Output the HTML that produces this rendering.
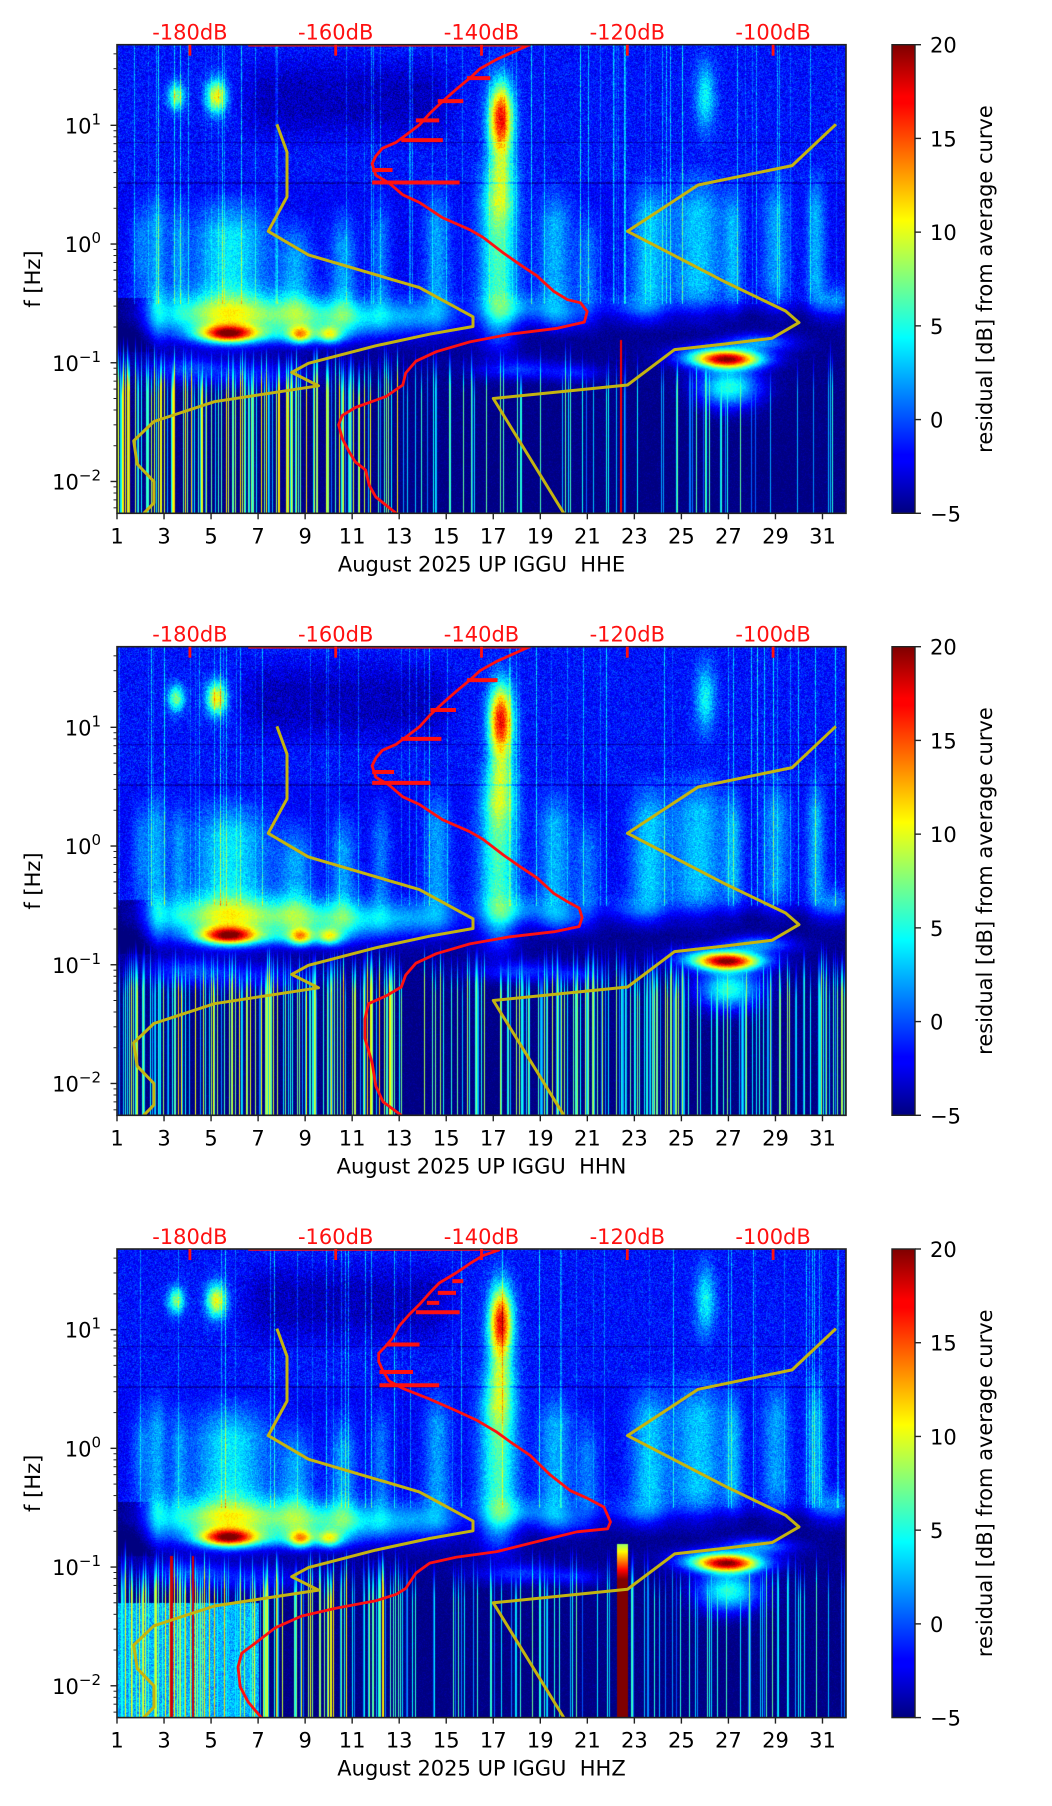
<!DOCTYPE html>
<html><head><meta charset="utf-8">
<style>
html,body{margin:0;padding:0;background:#fff;}
#wrap{position:relative;width:1052px;height:1806px;overflow:hidden;background:#fff;}
canvas{position:absolute;}
#ov{position:absolute;left:0;top:0;}
text{font-family:"DejaVu Sans","Liberation Sans",sans-serif;}
</style></head>
<body>
<div id="wrap">
<canvas id="c0" width="729" height="469" style="left:117px;top:44.7px"></canvas>
<canvas id="c1" width="729" height="469" style="left:117px;top:646.7px"></canvas>
<canvas id="c2" width="729" height="469" style="left:117px;top:1249px"></canvas>
<svg id="ov" width="1052" height="1806" xmlns="http://www.w3.org/2000/svg"></svg>
</div>
<script>
// ---- data ----
var channels = ["HHE","HHN","HHZ"];
var xTicks = [1,3,5,7,9,11,13,15,17,19,21,23,25,27,29,31];
var dbTicks = [-180,-160,-140,-120,-100];
var dbTickLabels = ["-180dB","-160dB","-140dB","-120dB","-100dB"];
var yTickExp = [1,0,-1,-2];
var cbTicks = [-5,0,5,10,15,20];
var cbTickLabels = ["\u22125","0","5","10","15","20"];

var redDB1 = [-133.3,-137.9,-140.2,-141.6,-143.5,-145.3,-147.1,-148.5,-149.9,-151.7,-153.6,-154.5,-155.0,-154.5,-152.7,-150.8,-148.5,-145.3,-141.6,-139.8,-137.0,-134.7,-132.4,-130.1,-128.2,-126.4,-125.5,-125.9,-129.6,-136.1,-141.6,-146.2,-149.0,-150.4,-150.8,-153.1,-157.3,-159.1,-159.6,-159.1,-158.2,-157.3,-155.9,-155.4,-154.5,-151.7];
var redF1 = [48,36,30,25,20,16,12.6,10.1,8.7,7.2,6.4,5.5,4.75,3.8,3.27,2.6,2.24,1.66,1.32,1.14,0.84,0.67,0.54,0.40,0.34,0.32,0.27,0.22,0.195,0.174,0.15,0.124,0.103,0.082,0.065,0.052,0.042,0.036,0.030,0.023,0.018,0.0146,0.0125,0.0093,0.0074,0.0054];
var redDB2 = [-133.3,-137.9,-140.2,-141.6,-143.5,-145.3,-147.1,-148.5,-149.9,-151.7,-153.6,-154.5,-155.0,-154.5,-152.7,-150.8,-148.5,-145.3,-141.6,-139.8,-137.0,-134.7,-132.4,-130.1,-128.2,-126.6,-126.2,-126.6,-130.0,-136.1,-141.6,-146.2,-149.0,-150.4,-151.0,-153.0,-155.5,-156.0,-156.0,-155.0,-154.5,-153.5,-151.0];
var redF2 = [48,36,30,25,20,16,12.6,10.1,8.7,7.2,6.4,5.5,4.75,3.8,3.27,2.6,2.24,1.66,1.32,1.14,0.84,0.67,0.54,0.40,0.34,0.30,0.25,0.21,0.19,0.172,0.15,0.124,0.103,0.082,0.065,0.055,0.047,0.035,0.024,0.015,0.0095,0.007,0.0054];
var redDB3 = [-137.5,-139.8,-141.6,-143.5,-145.8,-147.1,-148.5,-149.9,-151.3,-152.2,-153.1,-154.1,-154.1,-153.6,-152.7,-150.8,-147.1,-143.5,-140.7,-137.9,-136.1,-133.3,-130.6,-127.8,-125.5,-123.2,-122.3,-122.7,-126.9,-132.4,-137.9,-143.5,-147.1,-149.0,-150.4,-151.7,-154.5,-160.0,-164.7,-168.3,-171.1,-172.9,-173.4,-173.1,-172.0,-170.2];
var redF3 = [47,42,36,30,24.7,20.4,16.3,13.4,10.7,8.5,7.3,6.3,5.4,4.6,3.7,3.2,2.6,2.08,1.73,1.37,1.14,0.87,0.60,0.44,0.38,0.32,0.24,0.21,0.198,0.164,0.135,0.121,0.108,0.089,0.066,0.059,0.052,0.045,0.0386,0.0308,0.0227,0.0188,0.0144,0.0098,0.0073,0.0054];
var spikeF1 = [47.5,25,16,11,7.5,4.2,3.3];
var spikeFrom1 = [-172,-142,-146,-149,-151,-155,-155];
var spikeTo1 = [-133.3,-138.8,-142.5,-145.8,-145.3,-152.2,-143.0];
var spikeF2 = [47.5,25,14,8,4.2,3.4];
var spikeFrom2 = [-172,-142,-147,-151,-155,-155];
var spikeTo2 = [-133.3,-137.8,-143.5,-145.5,-152.0,-147.0];
var spikeF3 = [47.5,25.6,20.4,16.8,14,7.5,4.4,3.4];
var spikeFrom3 = [-172,-144,-146,-147.5,-149,-153,-154,-154];
var spikeTo3 = [-137.5,-142.5,-143.5,-145.8,-143.0,-148.5,-149.4,-145.8];

var yelADay = [7.8,8.23,8.23,7.43,9.14,13.86,16.14,16.14,14.29,12.0,9.14,8.43,9.57,5.14,2.57,1.71,1.86,2.57,2.57,2.14];
var yelAF = [10.2,5.96,2.5,1.28,0.81,0.43,0.244,0.202,0.174,0.139,0.099,0.083,0.064,0.047,0.032,0.022,0.014,0.010,0.0066,0.0054];
var yelBDay = [31.57,29.71,25.71,22.71,26.86,29.43,30.0,28.86,26.86,24.71,22.71,17.0,20.0];
var yelBF = [10.2,4.58,3.14,1.28,0.48,0.273,0.218,0.161,0.144,0.129,0.065,0.050,0.0054];

var redDBs = [redDB1,redDB2,redDB3], redFs=[redF1,redF2,redF3];
var spFs=[spikeF1,spikeF2,spikeF3], spAs=[spikeFrom1,spikeFrom2,spikeFrom3], spBs=[spikeTo1,spikeTo2,spikeTo3];

// ---- layout ----
var AL=117, AR=846, AH=468.6, panelTops=[44.7,646.7,1249];
var dayMin=1, dayMax=32, logTop=1.679, logBot=-2.268, dbMin=-190, dbMax=-90;
function xOf(d){return AL+(d-dayMin)/(dayMax-dayMin)*(AR-AL);}
function dbX(db){return AL+(db-dbMin)/(dbMax-dbMin)*(AR-AL);}
function yOf(tp,f){return tp+(logTop-Math.log10(f))/(logTop-logBot)*AH;}

var SVGNS="http://www.w3.org/2000/svg";
var ovl=document.getElementById('ov');
function mk(tag,attrs,parent,txt){var e=document.createElementNS(SVGNS,tag);for(var k in attrs)e.setAttribute(k,attrs[k]);if(txt!==undefined)e.textContent=txt;(parent||ovl).appendChild(e);return e;}

var defsEl=mk('defs',{});
var gradEl=mk('linearGradient',{id:'jetg',x1:0,y1:1,x2:0,y2:0},defsEl);
[[0,'#00007f'],[0.11,'#0000ff'],[0.125,'#0000ff'],[0.34,'#00dcff'],[0.375,'#00ffff'],[0.5,'#7fff7f'],[0.625,'#ffff00'],[0.66,'#ffdc00'],[0.875,'#ff0000'],[0.89,'#ff0000'],[1,'#7f0000']].forEach(function(s){mk('stop',{offset:s[0],'stop-color':s[1]},gradEl);});

function drawPanel(p){
  var tp=panelTops[p],bot=tp+AH;
  var cp=mk('clipPath',{id:'clip'+p},defsEl);mk('rect',{x:AL,y:tp,width:AR-AL,height:AH},cp);
  var g=mk('g',{});
  
  
  function line(xs,ys,isDay,stroke,w,name){
    var pts=[];for(var i=0;i<xs.length;i++){pts.push((isDay?xOf(xs[i]):dbX(xs[i])).toFixed(1)+','+yOf(tp,ys[i]).toFixed(1));}
    var e=mk('polyline',{points:pts.join(' '),fill:'none',stroke:stroke,'stroke-width':w,'stroke-linejoin':'round','clip-path':'url(#clip'+p+')'},g);
    
    
  }
  line(yelADay,yelAF,true,'#c4b410',3,'yellow-curve-a');
  line(yelBDay,yelBF,true,'#c4b410',3,'yellow-curve-b');
  line(redDBs[p],redFs[p],false,'#ff1010',2.8,'red-average-curve');
  for(var i=0;i<spFs[p].length;i++){
    var s=mk('line',{x1:dbX(spAs[p][i]),x2:dbX(spBs[p][i]),y1:yOf(tp,spFs[p][i]),y2:yOf(tp,spFs[p][i]),stroke:'#ff1010','stroke-width':i===0?3:4,'clip-path':'url(#clip'+p+')'},g);
    
    
  }
  var fr=mk('rect',{x:AL,y:tp,width:AR-AL,height:AH,fill:'none',stroke:'#222','stroke-width':1.6},g);
  
  
  xTicks.forEach(function(d){
    var x=xOf(d);mk('line',{x1:x,x2:x,y1:bot,y2:bot+6,stroke:'#222','stroke-width':1.4},g);
    var t=mk('text',{x:x,y:bot+30,'font-size':21,'text-anchor':'middle',fill:'#000'},g,String(d));
    
    
  });
  var xl=mk('text',{x:(AL+AR)/2,y:bot+58,'font-size':21,'text-anchor':'middle',fill:'#000'},g,'August 2025 UP IGGU\u00a0\u00a0'+channels[p]);
  
  
  for(var ex=-3;ex<=1;ex++){for(var m=1;m<10;m++){var f=m*Math.pow(10,ex);var lf=Math.log10(f);if(lf>logTop||lf<logBot)continue;var y=yOf(tp,f);
    mk('line',{x1:AL,x2:AL-(m===1?6.5:3.5),y1:y,y2:y,stroke:'#222','stroke-width':m===1?1.4:1},g);}}
  yTickExp.forEach(function(ex){
    var y=yOf(tp,Math.pow(10,ex));
    var t=mk('text',{x:101,y:y+8,'font-size':21,'text-anchor':'end',fill:'#000'},g);
    mk('tspan',{},t,'10');mk('tspan',{dy:-9,'font-size':15},t,ex<0?'\u2212'+(-ex):String(ex));
    
    
  });
  var yl=mk('text',{x:0,y:0,'font-size':21,'text-anchor':'middle',fill:'#000',transform:'translate(40,'+(tp+AH/2)+') rotate(-90)'},g,'f [Hz]');
  
  
  dbTicks.forEach(function(db,i){
    var x=dbX(db);mk('line',{x1:x,x2:x,y1:tp,y2:tp+11,stroke:'#ff1010','stroke-width':2.8},g);
    var t=mk('text',{x:x,y:tp-5,'font-size':21,'text-anchor':'middle',fill:'#ff1010'},g,dbTickLabels[i]);
    
    
  });
  var cb=mk('rect',{x:892,y:tp,width:23,height:AH,fill:'url(#jetg)',stroke:'#222','stroke-width':1.4},g);
  
  
  cbTicks.forEach(function(v,i){
    var y=bot-(v+5)/25*AH;mk('line',{x1:915,x2:921,y1:y,y2:y,stroke:'#222','stroke-width':1.4},g);
    var t=mk('text',{x:930,y:y+8,'font-size':21,fill:'#000'},g,cbTickLabels[i]);
    
    
  });
  var cl=mk('text',{x:0,y:0,'font-size':21,'text-anchor':'middle',fill:'#000',transform:'translate(992,'+(tp+AH/2)+') rotate(-90)'},g,'residual [dB] from average curve');
  
  
}

// ---- background field (texture) ----
var plumes=[[2.7,0.4,4,-0.7,0.4],[5.8,1.6,6,-0.75,0.3],[8.6,0.7,4,-0.7,0.1],[10.6,0.55,4,-0.7,0.2],[12.2,0.4,3,-0.6,0.3],[14.6,0.55,4,-0.6,0.4],[17.2,0.8,8,-0.8,0.55],[19.6,0.7,4.5,-0.6,0.4],[23.6,0.8,5,-0.55,0.45],[25.7,1.1,5,-0.55,0.5],[27.2,0.4,4,-0.5,0.4],[29,0.6,4,-0.5,0.5],[30.7,0.4,4.5,-0.5,0.5],[2,0.4,3,-0.4,0.3],[3.6,0.35,3,-0.5,0.3],[21,0.5,3,-0.6,0.2]];
var blobs=[[4.5,-0.6,1.8,0.12,6],[8,-0.6,2,0.12,6],[11,-0.62,1.8,0.1,5],[14,-0.6,1.2,0.1,3],
[5.7,-0.75,0.8,0.05,16],[8.8,-0.76,0.35,0.05,10],[10,-0.76,0.35,0.05,9],[7.5,-0.76,2.2,0.05,3],
[4,-1.05,1.2,0.08,4],[7,-1.1,1.5,0.08,3],[18,-1.05,1.2,0.06,4],[20.5,-1.08,0.8,0.05,3],
[27,-1.2,0.9,0.12,10],[27,-0.97,1.0,0.05,17],[26.5,-0.93,1.2,0.06,8],[28.3,-0.82,1.0,0.05,6],
[18,-0.55,1,0.08,4],[20,-0.6,0.8,0.08,4],[23,-0.55,1,0.08,3],[31.5,-0.5,0.5,0.1,4],
[3.5,1.25,0.25,0.08,9],[5.2,1.25,0.3,0.1,12],[17.3,1.1,0.35,0.2,15],[17.3,0.7,0.4,0.3,8],[26,1.25,0.3,0.2,6]];
function jetc(t){t=Math.max(0,Math.min(1,t));function c(x){return Math.max(0,Math.min(1,1.5-Math.abs(x)));}return [c(4*t-3)*255,c(4*t-2)*255,c(4*t-1)*255];}
function smooth(lf,lo,hi,s){var a=Math.min(1,Math.max(0,(lf-lo)/s+0.5)),b=Math.min(1,Math.max(0,(hi-lf)/s+0.5));return a*b;}
var baseLfPts=[1.7,0.55,0.45,-0.45,-0.6,-0.9,-1.3,-2.3];
var baseLeft=[-1.5,-1.5,-2.0,-2.0,-2.5,-4.3,-4.8,-5];
var baseRight=[-1.5,-1.5,-2.0,-2.0,-4.6,-4.5,-4.8,-5];
function interp(lf,vals){for(var i=0;i<baseLfPts.length-1;i++){if(lf<=baseLfPts[i]&&lf>=baseLfPts[i+1]){var t=(baseLfPts[i]-lf)/(baseLfPts[i]-baseLfPts[i+1]);return vals[i]+(vals[i+1]-vals[i])*t;}}return vals[vals.length-1];}
function drawField(p){
  var cv=document.getElementById('c'+p);
  var ctx=cv.getContext('2d');var W=729,Hh=469;
  var img=ctx.createImageData(W,Hh);var data=img.data;
  var seed=12345+p*777;
  function rnd(){seed=(seed*16807)%2147483647;return (seed-1)/2147483646;}
  var nb=blobs.length,np=plumes.length;
  var bx=[],by=[],px=[],py=[];
  var days=new Float32Array(W),lfs=new Float32Array(Hh);
  for(var x=0;x<W;x++)days[x]=1+x/W*31;
  for(var y=0;y<Hh;y++)lfs[y]=logTop-y/AH*(logTop-logBot);
  for(var b=0;b<nb;b++){var B=blobs[b];var ax=new Float32Array(W),ay=new Float32Array(Hh);
    for(x=0;x<W;x++)ax[x]=Math.exp(-0.5*Math.pow((days[x]-B[0])/B[2],2));
    for(y=0;y<Hh;y++)ay[y]=B[4]*Math.exp(-0.5*Math.pow((lfs[y]-B[1])/B[3],2));
    bx.push(ax);by.push(ay);}
  for(var q=0;q<np;q++){var Q=plumes[q];var ax2=new Float32Array(W),ay2=new Float32Array(Hh);
    for(x=0;x<W;x++)ax2[x]=Q[2]*Math.exp(-Math.pow((days[x]-Q[0])/Q[1],2));
    for(y=0;y<Hh;y++)ay2[y]=smooth(lfs[y],Q[3],Q[4],0.4);
    px.push(ax2);py.push(ay2);}
  var bl=new Float32Array(Hh),br=new Float32Array(Hh);
  for(y=0;y<Hh;y++){bl[y]=interp(lfs[y],baseLeft);br[y]=interp(lfs[y],baseRight);}
  var wr=new Float32Array(W),dk=new Float32Array(W),lowL=new Float32Array(W);
  for(x=0;x<W;x++){wr[x]=1/(1+Math.exp(-(days[x]-16)/0.4));dk[x]=smooth(days[x],6.5,15,1.5);lowL[x]=smooth(days[x],0,2.2,1);}
  var sv=new Float32Array(W),stp=new Float32Array(W),up=new Float32Array(W);
  for(x=0;x<W;x++){
    var day=days[x];
    var prob=day<13?0.4:0.13; if(p===1&&day>16)prob=0.35;
    if(rnd()<prob){sv[x]=day<13?1+rnd()*11:(p===1?1+rnd()*8:rnd()*7);stp[x]=-0.95+rnd()*0.2;}else sv[x]=-99;
    up[x]=rnd()<0.07?1.5+rnd()*5:0;
  }
  for(y=0;y<Hh;y++){
    var lf=lfs[y];var dkY=smooth(lf,0.95,1.5,0.3);
    for(x=0;x<W;x++){
      day=days[x];var n=rnd()+rnd()-1;
      var v=bl[y]+(br[y]-bl[y])*wr[x];
      v+=n*(lf>0.5?2.2:(lf>-0.5?1.8:1.0));
      v-=2*dk[x]*dkY;
      if(lf<-0.45&&lf>-0.9)v-=3*lowL[x];
      for(q=0;q<np;q++){var a=px[q][x];if(a>0.04)v+=a*py[q][y];}
      for(b=0;b<nb;b++){var c=bx[b][x];if(c>0.01)v+=c*by[b][y];}
      if(lf>-0.5)v+=up[x]*(0.6+0.4*rnd());
      if(sv[x]>-50&&lf<stp[x]){var fade=Math.min(1,(stp[x]-lf)/0.35);v=Math.max(v,sv[x]*fade-5*(1-fade));}
      if(p===2){
        if(day<7&&lf<-1.3)v=Math.max(v,2.5+n*2.5);
        if(day>22.25&&day<22.7&&lf<-0.8)v=Math.max(v,20-Math.max(0,(lf+1.1))*40);
        if((Math.abs(day-3.3)<0.06||Math.abs(day-4.2)<0.05)&&lf<-0.9)v=18;
      }
      if(p===0&&Math.abs(day-22.4)<0.05&&lf<-0.8)v=17;
      if(Math.abs(lf-0.52)<0.006||Math.abs(lf-0.86)<0.006)v-=2;
      var col=jetc((v+5)/25);var i=(y*W+x)*4;
      data[i]=col[0];data[i+1]=col[1];data[i+2]=col[2];data[i+3]=255;
    }
  }
  ctx.putImageData(img,0,0);
}

for(var pp=0;pp<3;pp++){ try{drawPanel(pp);}catch(err){} }
for(var pf=0;pf<3;pf++){ try{drawField(pf);}catch(err){} }
</script>
</body></html>
